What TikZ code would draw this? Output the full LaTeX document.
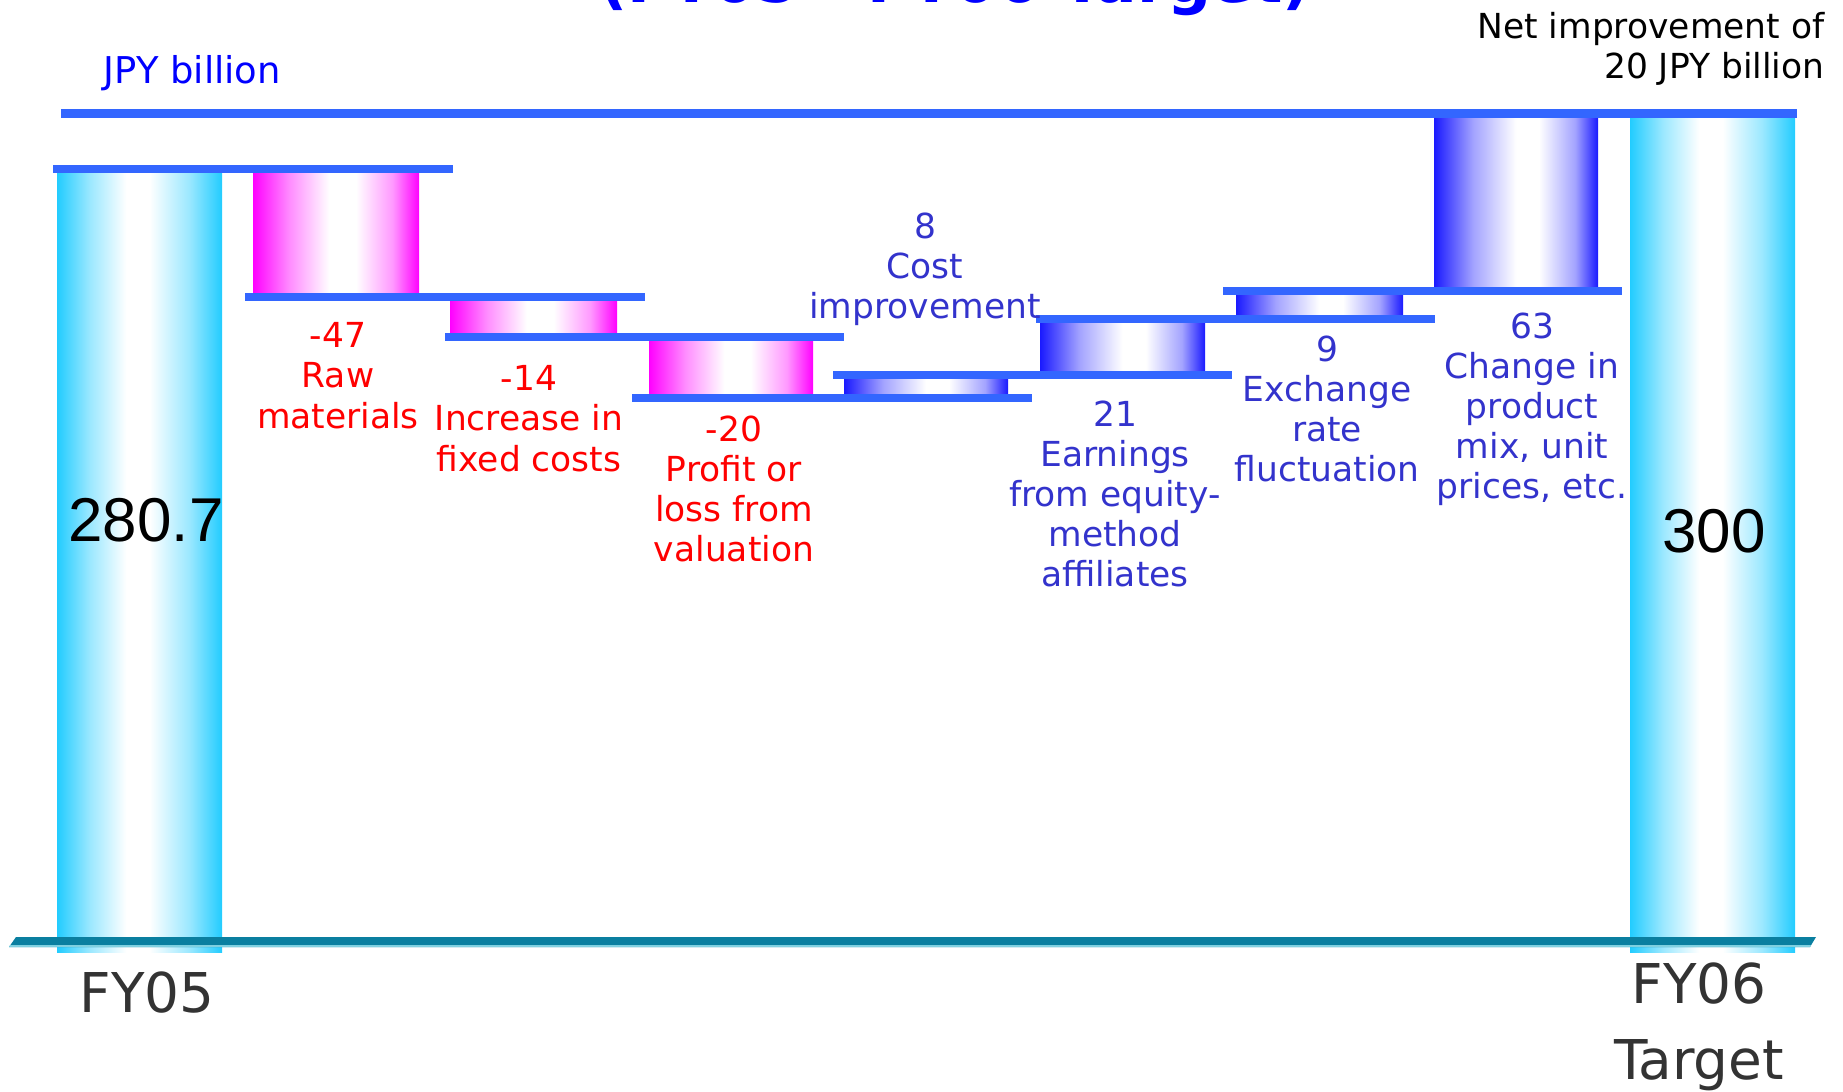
\documentclass[tikz,border=0pt]{standalone}
\usepackage{fontspec}
\setmainfont{DejaVu Sans}
\newfontfamily\numfont{Liberation Sans}
\definecolor{lineblue}{HTML}{3366FF}
\definecolor{cyanedge}{HTML}{22CCFF}
\definecolor{magedge}{HTML}{FF00FF}
\definecolor{blueedge}{HTML}{1A1AFF}
\definecolor{negred}{HTML}{FF0000}
\definecolor{posblue}{HTML}{3333CC}
\definecolor{titleblue}{HTML}{0000FF}
\definecolor{axisteal}{HTML}{0A7FA0}
\definecolor{axislight}{HTML}{7FD0E0}
\definecolor{fygray}{HTML}{333333}
\pgfdeclarehorizontalshading{cyanbar}{100bp}{color(0bp)=(cyanedge); color(25bp)=(cyanedge);
  color(35bp)=(cyanedge!45!white); color(46bp)=(white); color(53bp)=(white);
  color(65bp)=(cyanedge!45!white); color(75bp)=(cyanedge); color(100bp)=(cyanedge)}
\pgfdeclarehorizontalshading{magbar}{100bp}{color(0bp)=(magedge); color(25bp)=(magedge);
  color(36bp)=(magedge!45!white); color(48bp)=(white); color(56bp)=(white);
  color(67bp)=(magedge!40!white); color(75bp)=(magedge); color(100bp)=(magedge)}
\pgfdeclarehorizontalshading{bluebar}{100bp}{color(0bp)=(blueedge); color(25bp)=(blueedge);
  color(37bp)=(blueedge!40!white); color(50bp)=(white); color(57bp)=(white);
  color(68bp)=(blueedge!40!white); color(75bp)=(blueedge); color(100bp)=(blueedge)}
\begin{document}
\begin{tikzpicture}[x=0.01cm,y=-0.01cm,
    barline/.style={fill=lineblue},
    totalbar/.style={shading=cyanbar},
    negbar/.style={shading=magbar},
    posbar/.style={shading=bluebar},
    neglabel/.style={text=negred,align=center,anchor=north,inner sep=0pt,
      font=\fontsize{9.8}{11.4}\selectfont},
    poslabel/.style={text=posblue,align=center,anchor=north,inner sep=0pt,
      font=\fontsize{9.8}{11.4}\selectfont},
    totallabel/.style={anchor=base,inner sep=0pt,font=\numfont\fontsize{17.6}{20}\selectfont},
    yearlabel/.style={text=fygray,align=center,inner sep=0pt,
      font=\fontsize{15.6}{21.6}\selectfont}]
  \useasboundingbox (0,0) rectangle (1843,1092);
  % title, cut off at the top
  \node[anchor=base,inner sep=0pt,text=titleblue,font=\bfseries\fontsize{17.5}{20}\selectfont]
    (title) at (955,3) {(FY05 - FY06 Target)};
  \node[anchor=base west,inner sep=0pt,text=titleblue,font=\fontsize{10.5}{12}\selectfont]
    (unit) at (103,84) {JPY billion};
  \node[anchor=north east,inner sep=0pt,align=right,font=\fontsize{9.8}{11.4}\selectfont]
    (net) at (1825,12) {Net improvement of\\20 JPY billion};
  % bars
  \shade[totalbar] (57,173) rectangle (222,952);
  \shade[negbar] (253,173) rectangle (419,293);
  \shade[negbar] (450,301) rectangle (617,333);
  \shade[negbar] (649,341) rectangle (813,394);
  \shade[posbar] (844,379) rectangle (1008,394);
  \shade[posbar] (1040,323) rectangle (1205,371);
  \shade[posbar] (1236,295) rectangle (1403,315);
  \shade[posbar] (1434,118) rectangle (1598,287);
  \shade[totalbar] (1630,118) rectangle (1795,952);
  % level lines
  \begin{scope}
    \fill[barline] (61,109) rectangle (1797,118);
    \fill[barline] (53,165) rectangle (453,173);
    \fill[barline] (245,293) rectangle (645,301);
    \fill[barline] (445,333) rectangle (844,341);
    \fill[barline] (632,394) rectangle (1032,402);
    \fill[barline] (833,371) rectangle (1232,379);
    \fill[barline] (1036,315) rectangle (1435,323);
    \fill[barline] (1223,287) rectangle (1622,295);
  \end{scope}
  % axis
  \fill[axisteal] (9,947) -- (16,937) -- (1816,937) -- (1810,947) -- cycle;
  \fill[axislight] (9,947) -- (10,945) -- (1811,945) -- (1810,947) -- cycle;
  % labels
  \node[totallabel] (fy05val) at (146,542) {280.7};
  \node[totallabel] (fy06val) at (1714,553) {300};
  \node[neglabel] (raw) at (338,322) {-47\\Raw\\materials};
  \node[neglabel] (fixed) at (529,365) {-14\\Increase in\\fixed costs};
  \node[neglabel] (valuation) at (734,415) {-20\\Profit or\\loss from\\valuation};
  \node[poslabel] (cost) at (925,212) {8\\Cost\\improvement};
  \node[poslabel] (equity) at (1115,400) {21\\Earnings\\from equity-\\method\\affiliates};
  \node[poslabel] (exchange) at (1327,335) {9\\Exchange\\rate\\fluctuation};
  \node[poslabel] (mix) at (1532,312) {63\\Change in\\product\\mix, unit\\prices, etc.};
  \node[yearlabel,anchor=base] (fy05) at (147,1012) {FY05};
  \node[yearlabel,anchor=north] (fy06) at (1699,962) {FY06\\Target};
\end{tikzpicture}
\end{document}
